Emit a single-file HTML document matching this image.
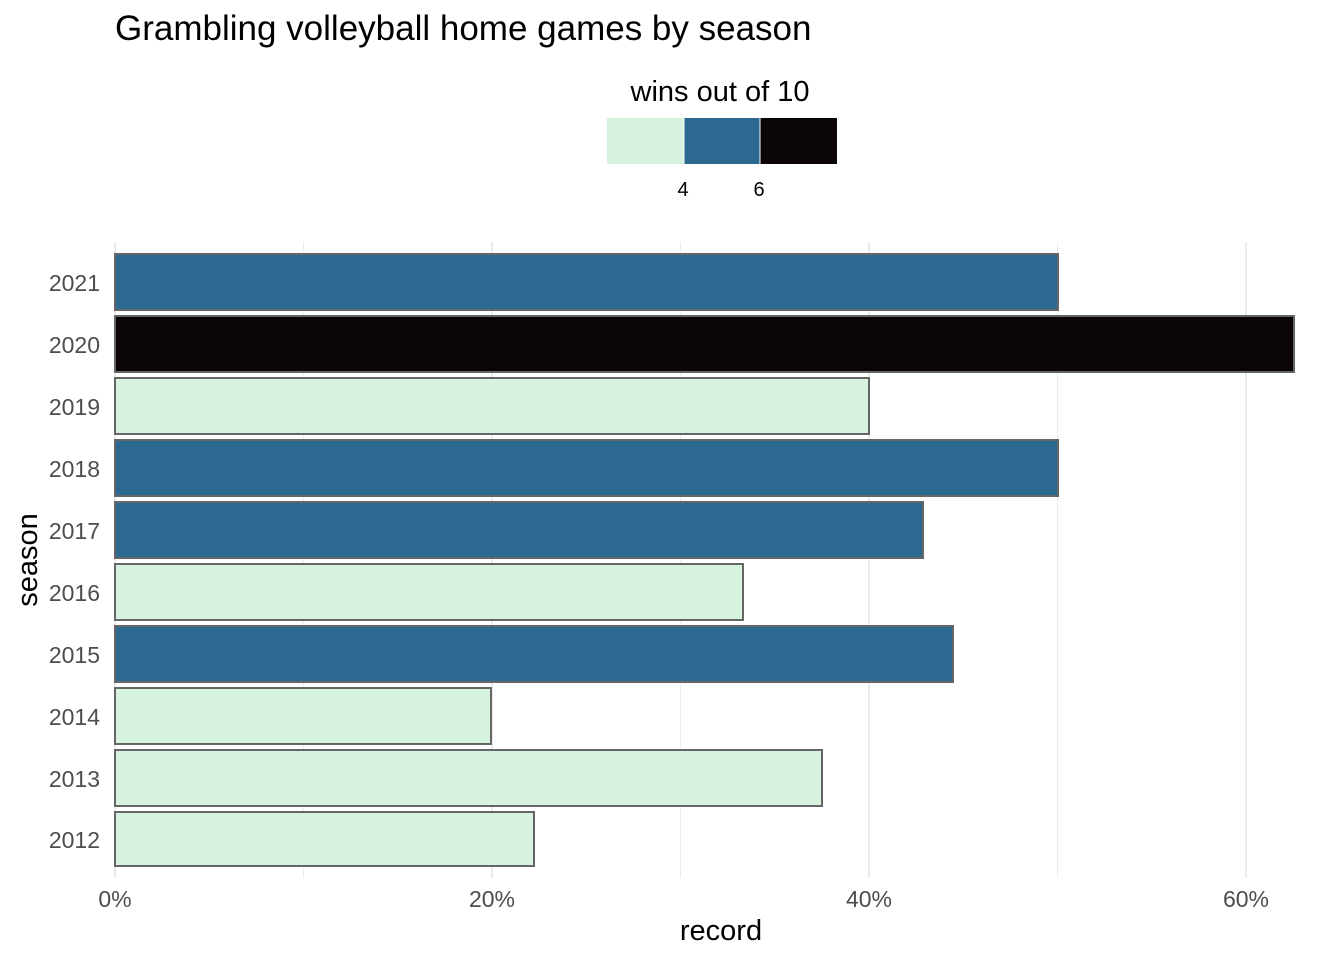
<!DOCTYPE html>
<html><head><meta charset="utf-8"><style>html,body{margin:0;padding:0;background:#fff}</style></head>
<body>
<svg width="1344" height="960" xmlns="http://www.w3.org/2000/svg" font-family="Liberation Sans, Arial, sans-serif">
<rect width="1344" height="960" fill="#fff"/>
<text x="115" y="40" font-size="35" fill="#000">Grambling volleyball home games by season</text>
<text x="720" y="101" font-size="29" fill="#000" text-anchor="middle">wins out of 10</text>
<rect x="607" y="118" width="77" height="46" fill="#d6f3df"/>
<rect x="684" y="118" width="76" height="46" fill="#2c6991"/>
<rect x="760" y="118" width="77" height="46" fill="#0b0505"/>
<line x1="684" y1="118" x2="684" y2="164" stroke="#fff" stroke-width="1"/>
<line x1="760" y1="118" x2="760" y2="164" stroke="#fff" stroke-width="1"/>
<text x="683" y="196" font-size="20" text-anchor="middle">4</text>
<text x="759" y="196" font-size="20" text-anchor="middle">6</text>
<g stroke="#ebebeb">
<line x1="303.5" y1="242" x2="303.5" y2="878" stroke-width="1"/>
<line x1="680.5" y1="242" x2="680.5" y2="878" stroke-width="1"/>
<line x1="1057.5" y1="242" x2="1057.5" y2="878" stroke-width="1"/>
<line x1="115" y1="242" x2="115" y2="878" stroke-width="2"/>
<line x1="492" y1="242" x2="492" y2="878" stroke-width="2"/>
<line x1="869" y1="242" x2="869" y2="878" stroke-width="2"/>
<line x1="1246" y1="242" x2="1246" y2="878" stroke-width="2"/>
</g>
<g stroke="#666" stroke-width="2">
<rect x="115" y="254" width="943" height="56" fill="#2c6991"/>
<rect x="115" y="316" width="1179" height="56" fill="#0b0505"/>
<rect x="115" y="378" width="754" height="56" fill="#d6f3df"/>
<rect x="115" y="440" width="943" height="56" fill="#2c6991"/>
<rect x="115" y="502" width="808" height="56" fill="#2c6991"/>
<rect x="115" y="564" width="628" height="56" fill="#d6f3df"/>
<rect x="115" y="626" width="838" height="56" fill="#2c6991"/>
<rect x="115" y="688" width="376" height="56" fill="#d6f3df"/>
<rect x="115" y="750" width="707" height="56" fill="#d6f3df"/>
<rect x="115" y="812" width="419" height="54" fill="#d6f3df"/>
</g>
<g font-size="23" fill="#4d4d4d" text-anchor="end">
<text x="100" y="291">2021</text>
<text x="100" y="353">2020</text>
<text x="100" y="415">2019</text>
<text x="100" y="477">2018</text>
<text x="100" y="539">2017</text>
<text x="100" y="601">2016</text>
<text x="100" y="663">2015</text>
<text x="100" y="725">2014</text>
<text x="100" y="787">2013</text>
<text x="100" y="848">2012</text>
</g>
<g font-size="23" fill="#4d4d4d" text-anchor="middle">
<text x="115" y="907">0%</text>
<text x="492" y="907">20%</text>
<text x="869" y="907">40%</text>
<text x="1246" y="907">60%</text>
</g>
<text x="721" y="940" font-size="29" text-anchor="middle">record</text>
<text transform="translate(37,560) rotate(-90)" font-size="29" text-anchor="middle">season</text>
</svg>
</body></html>
